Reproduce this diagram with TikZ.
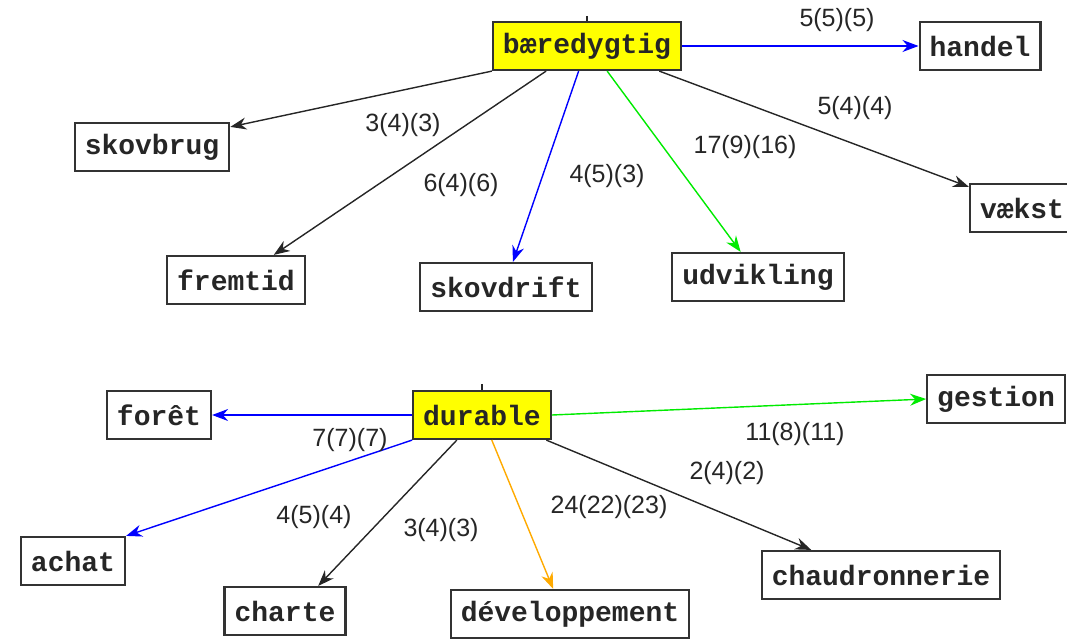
\documentclass[tikz,border=0pt]{standalone}
\usepackage{fontspec}
\setmainfont{Liberation Sans}
\newfontfamily\boxfont{Liberation Mono}
\usetikzlibrary{arrows.meta,calc}
\definecolor{eblue}{RGB}{0,0,255}
\definecolor{egreen}{RGB}{0,235,0}
\definecolor{eorange}{RGB}{255,170,0}
\definecolor{eyellow}{RGB}{255,255,0}
\tikzset{
  word/.style={draw=black!80, line width=2.2pt, fill=white, inner xsep=10pt, minimum height=48pt,
    font=\boxfont\bfseries\fontsize{28}{30}\selectfont, text=black!85},
  hub/.style={word, fill=eyellow},
  lab/.style={font=\fontsize{25}{27}\selectfont, text=black!85, inner sep=0pt},
  con/.style={line width=1.4pt, -{Stealth[length=16pt,width=12pt]}},
  kblack/.style={con, draw=black!85, fill=black!85},
  kblue/.style={con, draw=eblue, fill=eblue},
  kgreen/.style={con, draw=egreen, fill=egreen},
  korange/.style={con, draw=eorange, fill=eorange},
  stub/.style={line width=1.4pt, draw=black!85}
}
\begin{document}
\begin{tikzpicture}[x=1pt,y=-1pt]
\useasboundingbox (0,0) rectangle (1067,640);
% top group
\node[hub] (b) at (587,46) {bæredygtig};
\node[word] (ha) at (980,46) {handel};
\node[word] (sb) at (152,147) {skovbrug};
\node[word] (vk) at (1022,208) {vækst};
\node[word] (fr) at (236,280) {fremtid};
\node[word] (sd) at (506,287) {skovdrift};
\node[word] (ud) at (758,277) {udvikling};
\coordinate (bs) at ($(b.north)+(0,-5)$);
\draw[stub] (bs) -- (b.north);

\draw[kblue] (b.east) -- (ha.west);
\draw[kblack] (b.south west) -- ($(sb.north east)+(0,5)$);
\draw[kblack] ($(b.south west)!0.285!(b.south east)$) -- ($(fr.north west)!0.77!(fr.north east)$);
\draw[kblue] ($(b.south west)!0.456!(b.south east)$) -- ($(sd.north west)!0.54!(sd.north east)$);
\draw[kgreen] ($(b.south west)!0.606!(b.south east)$) -- ($(ud.north west)!0.40!(ud.north east)$);
\draw[kblack] ($(b.south west)!0.88!(b.south east)$) -- ($(vk.north west)+(0,4)$);

\node[lab] (l1) at (837,20) {5(5)(5)};
\node[lab] (l2) at (403,125) {3(4)(3)};
\node[lab] (l3) at (461,185) {6(4)(6)};
\node[lab] (l4) at (607,176) {4(5)(3)};
\node[lab] (l5) at (855,108) {5(4)(4)};
\node[lab] (l6) at (745,147) {17(9)(16)};

% bottom group
\node[hub] (d) at (482,415) {durable};
\node[word] (fo) at (159,415) {forêt};
\node[word] (ge) at (996,399) {gestion};
\node[word] (ac) at (73,561) {achat};
\node[word] (ch) at (285,611) {charte};
\node[word] (dv) at (570,614) {développement};
\node[word] (cd) at (881,575) {chaudronnerie};
\coordinate (ds) at ($(d.north)+(0,-6)$);
\draw[stub] (ds) -- (d.north);

\draw[kblue] (d.west) -- (fo.east);
\draw[kgreen] (d.east) -- (ge.west);
\draw[kblue] (d.south west) -- (ac.north east);
\draw[kblack] ($(d.south west)!0.32!(d.south east)$) -- ($(ch.north west)!0.77!(ch.north east)$);
\draw[korange] ($(d.south west)!0.57!(d.south east)$) -- ($(dv.north west)!0.43!(dv.north east)$);
\draw[kblack] ($(d.south west)!0.96!(d.south east)$) -- ($(cd.north west)!0.21!(cd.north east)$);

\node[lab] (m1) at (350,440) {7(7)(7)};
\node[lab] (m2) at (314,517) {4(5)(4)};
\node[lab] (m3) at (441,530) {3(4)(3)};
\node[lab] (m4) at (609,507) {24(22)(23)};
\node[lab] (m5) at (727,473) {2(4)(2)};
\node[lab] (m6) at (795,434) {11(8)(11)};
\end{tikzpicture}
\end{document}
